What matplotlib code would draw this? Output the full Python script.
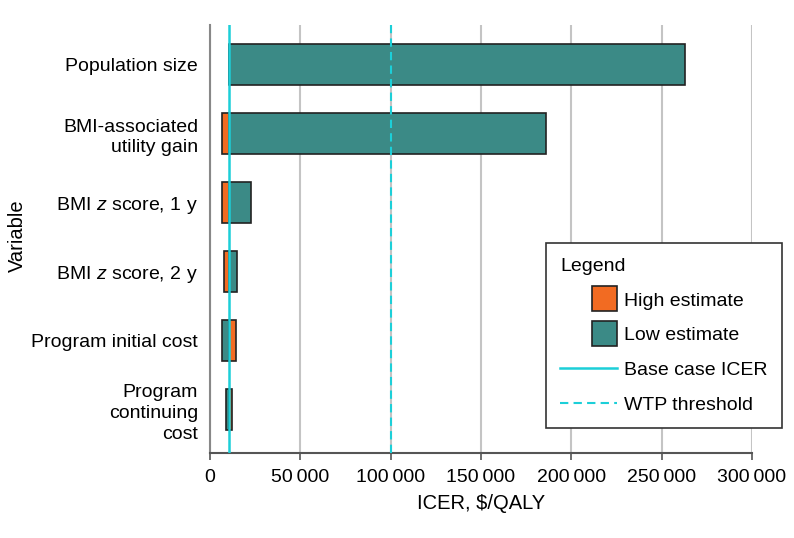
import matplotlib
matplotlib.use("Agg")
import matplotlib.pyplot as plt
from matplotlib.patches import Patch, Rectangle
from matplotlib.lines import Line2D
from matplotlib.legend_handler import HandlerPatch

FAM = ['Liberation Sans', 'DejaVu Sans']
plt.rcParams['font.family'] = FAM
plt.rcParams['mathtext.fontset'] = 'custom'
plt.rcParams['mathtext.it'] = 'Liberation Sans:italic'
plt.rcParams['mathtext.rm'] = 'Liberation Sans'

categories = ['Population size', 'BMI-associated\nutility gain', 'BMI $z$ score, 1 y',
              'BMI $z$ score, 2 y', 'Program initial cost', 'Program\ncontinuing\ncost']
base_icer = 10500
wtp = 100000
low_estimate = [263000, 185800, 22700, 15100, 6800, 8700]
high_estimate = [10500, 6800, 6800, 7600, 14200, 12300]
xticks = [0, 50000, 100000, 150000, 200000, 250000, 300000]
xticklabels = ['0', '50\u2009000', '100\u2009000', '150\u2009000', '200\u2009000', '250\u2009000', '300\u2009000']

ORANGE = '#F26B22'
TEAL = '#3B8A86'
CYAN = '#1CCFD8'
EDGE = '#222222'
FS = 14

fig = plt.figure(figsize=(7.94, 5.38), dpi=100)
ax = fig.add_axes([210/794, 1-453.3/538, (752-210)/794, (453.3-24.7)/538])

ypos = list(range(len(categories)))
ax.barh(ypos, [l - base_icer for l in low_estimate], left=base_icer, height=0.6,
        color=TEAL, edgecolor=EDGE, linewidth=1.2, zorder=3)
ax.barh(ypos, [h - base_icer for h in high_estimate], left=base_icer, height=0.6,
        color=ORANGE, edgecolor=EDGE, linewidth=1.2, zorder=3)

ax.axvline(base_icer, color=CYAN, lw=1.8, zorder=4)
ax.axvline(wtp, color=CYAN, lw=1.5, ls=(0, (4, 2.5)), zorder=4)

ax.set_xlim(0, 300000)
ax.set_ylim(5.635, -0.577)
ax.set_yticks(ypos)
ax.set_yticklabels(categories, fontsize=FS, linespacing=1.3)
ax.set_xticks(xticks)
ax.set_xticklabels(xticklabels, fontsize=FS)
ax.tick_params(axis='y', length=0, pad=8.5)
ax.tick_params(axis='x', length=5, width=1.2, color='#555555', pad=6)
ax.grid(axis='x', color='#c4c4c4', lw=1.5, zorder=0)
ax.set_axisbelow(True)
for s in ['top', 'right']:
    ax.spines[s].set_visible(False)
ax.spines['left'].set_color('#888888')
ax.spines['left'].set_linewidth(1.5)
ax.spines['bottom'].set_color('#555555')
ax.spines['bottom'].set_linewidth(1.5)

ax.set_xlabel('ICER, $/QALY', fontsize=FS + 0.5, labelpad=6)
ax.set_ylabel('Variable', fontsize=FS + 0.5)
ax.yaxis.set_label_coords(-0.338, 0.507)


class SquareHandler(HandlerPatch):
    def create_artists(self, legend, orig_handle, xdescent, ydescent, width, height, fontsize, trans):
        s = 18
        p = Rectangle((-xdescent + width - s, -ydescent + height/2 - s/2), s, s,
                      facecolor=orig_handle.get_facecolor(), edgecolor=EDGE, lw=1.2,
                      transform=trans)
        return [p]


handles = [Patch(facecolor=ORANGE, edgecolor=EDGE, label='High estimate'),
           Patch(facecolor=TEAL, edgecolor=EDGE, label='Low estimate'),
           Line2D([], [], color=CYAN, lw=1.8, label='Base case ICER'),
           Line2D([], [], color=CYAN, lw=1.5, ls=(0, (4, 2.5)), label='WTP threshold')]
leg = ax.legend(handles=handles, title='Legend', loc='lower right',
                bbox_to_anchor=(1.0548, 0.0583), borderaxespad=0,
                fontsize=FS, title_fontsize=FS,
                frameon=True, fancybox=False, edgecolor='#333333', framealpha=1,
                handlelength=2.9, handletextpad=0.36, labelspacing=0.88,
                borderpad=0.75, alignment='left',
                handler_map={Patch: SquareHandler()})
leg.get_frame().set_linewidth(1.2)
leg.set_zorder(10)

fig.savefig('out.png', dpi=100)
